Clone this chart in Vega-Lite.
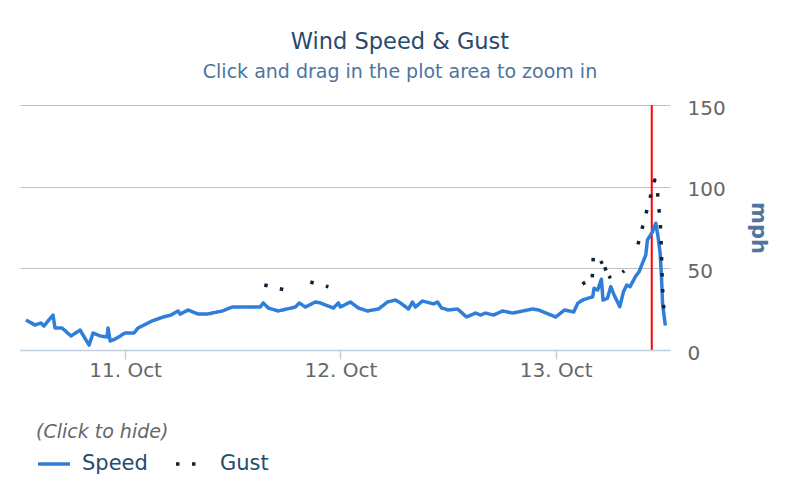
{
  "$schema": "https://vega.github.io/schema/vega-lite/v6.json",
  "width": 650,
  "height": 245,
  "autosize": {"type": "none"},
  "padding": {"left": 20, "top": 105, "right": 130, "bottom": 150},
  "background": "#ffffff",
  "title": {
    "text": "Wind Speed & Gust",
    "subtitle": "Click and drag in the plot area to zoom in",
    "font": "DejaVu Sans",
    "fontSize": 22.5,
    "fontWeight": "normal",
    "color": "#274b6d",
    "subtitleFont": "DejaVu Sans",
    "subtitleFontSize": 19,
    "subtitleColor": "#4d759e",
    "subtitlePadding": 10,
    "anchor": "middle",
    "dx": 55,
    "offset": 16
  },
  "layer": [
    {
      "data": {"values": [{"t": "2013-10-13T10:43:00Z"}]},
      "mark": {"type": "rule", "color": "#ff0000", "strokeWidth": 2},
      "encoding": {
        "x": {"field": "t", "type": "temporal"}
      }
    },
    {
      "data": {
        "values": [
          {"t": "2013-10-10T12:57:00Z", "series": "Speed", "v": 18.4},
          {"t": "2013-10-10T13:57:00Z", "series": "Speed", "v": 15.3},
          {"t": "2013-10-10T14:37:00Z", "series": "Speed", "v": 16.5},
          {"t": "2013-10-10T14:57:00Z", "series": "Speed", "v": 14.7},
          {"t": "2013-10-10T15:58:00Z", "series": "Speed", "v": 21.4},
          {"t": "2013-10-10T16:11:00Z", "series": "Speed", "v": 13.5},
          {"t": "2013-10-10T16:58:00Z", "series": "Speed", "v": 13.5},
          {"t": "2013-10-10T17:58:00Z", "series": "Speed", "v": 8.6},
          {"t": "2013-10-10T18:59:00Z", "series": "Speed", "v": 12.2},
          {"t": "2013-10-10T19:59:00Z", "series": "Speed", "v": 3},
          {"t": "2013-10-10T20:26:00Z", "series": "Speed", "v": 10.4},
          {"t": "2013-10-10T21:13:00Z", "series": "Speed", "v": 8.6},
          {"t": "2013-10-10T21:59:00Z", "series": "Speed", "v": 8},
          {"t": "2013-10-10T22:06:00Z", "series": "Speed", "v": 13.5},
          {"t": "2013-10-10T22:20:00Z", "series": "Speed", "v": 5.5},
          {"t": "2013-10-10T22:53:00Z", "series": "Speed", "v": 6.7},
          {"t": "2013-10-11T00:00:00Z", "series": "Speed", "v": 10.4},
          {"t": "2013-10-11T01:00:00Z", "series": "Speed", "v": 10.4},
          {"t": "2013-10-11T01:27:00Z", "series": "Speed", "v": 13.5},
          {"t": "2013-10-11T03:01:00Z", "series": "Speed", "v": 17.8},
          {"t": "2013-10-11T04:15:00Z", "series": "Speed", "v": 20.2},
          {"t": "2013-10-11T05:08:00Z", "series": "Speed", "v": 21.4},
          {"t": "2013-10-11T05:55:00Z", "series": "Speed", "v": 23.9},
          {"t": "2013-10-11T06:08:00Z", "series": "Speed", "v": 22},
          {"t": "2013-10-11T07:02:00Z", "series": "Speed", "v": 24.5},
          {"t": "2013-10-11T08:09:00Z", "series": "Speed", "v": 22},
          {"t": "2013-10-11T09:09:00Z", "series": "Speed", "v": 22},
          {"t": "2013-10-11T10:50:00Z", "series": "Speed", "v": 23.9},
          {"t": "2013-10-11T11:57:00Z", "series": "Speed", "v": 26.3},
          {"t": "2013-10-11T15:04:00Z", "series": "Speed", "v": 26.3},
          {"t": "2013-10-11T15:24:00Z", "series": "Speed", "v": 28.8},
          {"t": "2013-10-11T15:58:00Z", "series": "Speed", "v": 25.7},
          {"t": "2013-10-11T17:05:00Z", "series": "Speed", "v": 23.9},
          {"t": "2013-10-11T18:59:00Z", "series": "Speed", "v": 26.3},
          {"t": "2013-10-11T19:25:00Z", "series": "Speed", "v": 28.8},
          {"t": "2013-10-11T20:06:00Z", "series": "Speed", "v": 26.3},
          {"t": "2013-10-11T21:13:00Z", "series": "Speed", "v": 29.4},
          {"t": "2013-10-11T21:46:00Z", "series": "Speed", "v": 28.8},
          {"t": "2013-10-11T23:13:00Z", "series": "Speed", "v": 25.7},
          {"t": "2013-10-11T23:47:00Z", "series": "Speed", "v": 28.8},
          {"t": "2013-10-12T00:00:00Z", "series": "Speed", "v": 26.3},
          {"t": "2013-10-12T01:07:00Z", "series": "Speed", "v": 29.4},
          {"t": "2013-10-12T02:01:00Z", "series": "Speed", "v": 25.7},
          {"t": "2013-10-12T03:01:00Z", "series": "Speed", "v": 23.9},
          {"t": "2013-10-12T04:15:00Z", "series": "Speed", "v": 25.1},
          {"t": "2013-10-12T05:15:00Z", "series": "Speed", "v": 29.4},
          {"t": "2013-10-12T06:08:00Z", "series": "Speed", "v": 30.6},
          {"t": "2013-10-12T06:42:00Z", "series": "Speed", "v": 28.8},
          {"t": "2013-10-12T07:36:00Z", "series": "Speed", "v": 25.1},
          {"t": "2013-10-12T08:02:00Z", "series": "Speed", "v": 29.4},
          {"t": "2013-10-12T08:22:00Z", "series": "Speed", "v": 26.3},
          {"t": "2013-10-12T09:09:00Z", "series": "Speed", "v": 30},
          {"t": "2013-10-12T10:23:00Z", "series": "Speed", "v": 28.2},
          {"t": "2013-10-12T10:50:00Z", "series": "Speed", "v": 29.4},
          {"t": "2013-10-12T11:17:00Z", "series": "Speed", "v": 25.7},
          {"t": "2013-10-12T12:03:00Z", "series": "Speed", "v": 24.5},
          {"t": "2013-10-12T13:04:00Z", "series": "Speed", "v": 25.1},
          {"t": "2013-10-12T14:04:00Z", "series": "Speed", "v": 20.2},
          {"t": "2013-10-12T15:04:00Z", "series": "Speed", "v": 22.6},
          {"t": "2013-10-12T15:38:00Z", "series": "Speed", "v": 21.4},
          {"t": "2013-10-12T16:11:00Z", "series": "Speed", "v": 22.6},
          {"t": "2013-10-12T17:05:00Z", "series": "Speed", "v": 21.4},
          {"t": "2013-10-12T18:05:00Z", "series": "Speed", "v": 23.9},
          {"t": "2013-10-12T19:12:00Z", "series": "Speed", "v": 22.6},
          {"t": "2013-10-12T21:26:00Z", "series": "Speed", "v": 25.1},
          {"t": "2013-10-12T22:06:00Z", "series": "Speed", "v": 24.5},
          {"t": "2013-10-13T00:00:00Z", "series": "Speed", "v": 20.2},
          {"t": "2013-10-13T01:00:00Z", "series": "Speed", "v": 24.5},
          {"t": "2013-10-13T02:01:00Z", "series": "Speed", "v": 23.3},
          {"t": "2013-10-13T02:28:00Z", "series": "Speed", "v": 28.6},
          {"t": "2013-10-13T03:01:00Z", "series": "Speed", "v": 30.6},
          {"t": "2013-10-13T03:34:00Z", "series": "Speed", "v": 31.6},
          {"t": "2013-10-13T04:08:00Z", "series": "Speed", "v": 32.6},
          {"t": "2013-10-13T04:17:00Z", "series": "Speed", "v": 37.8},
          {"t": "2013-10-13T04:41:00Z", "series": "Speed", "v": 36.7},
          {"t": "2013-10-13T05:06:00Z", "series": "Speed", "v": 43.3},
          {"t": "2013-10-13T05:17:00Z", "series": "Speed", "v": 30.6},
          {"t": "2013-10-13T05:46:00Z", "series": "Speed", "v": 31.6},
          {"t": "2013-10-13T06:09:00Z", "series": "Speed", "v": 38.8},
          {"t": "2013-10-13T06:31:00Z", "series": "Speed", "v": 33.7},
          {"t": "2013-10-13T07:09:00Z", "series": "Speed", "v": 26.5},
          {"t": "2013-10-13T07:34:00Z", "series": "Speed", "v": 35.7},
          {"t": "2013-10-13T07:56:00Z", "series": "Speed", "v": 39.8},
          {"t": "2013-10-13T08:18:00Z", "series": "Speed", "v": 38.8},
          {"t": "2013-10-13T08:56:00Z", "series": "Speed", "v": 45.3},
          {"t": "2013-10-13T09:18:00Z", "series": "Speed", "v": 47.9},
          {"t": "2013-10-13T10:03:00Z", "series": "Speed", "v": 58.2},
          {"t": "2013-10-13T10:14:00Z", "series": "Speed", "v": 67.3},
          {"t": "2013-10-13T10:48:00Z", "series": "Speed", "v": 72.4},
          {"t": "2013-10-13T11:10:00Z", "series": "Speed", "v": 77.6},
          {"t": "2013-10-13T11:25:00Z", "series": "Speed", "v": 69.4},
          {"t": "2013-10-13T11:39:00Z", "series": "Speed", "v": 59.2},
          {"t": "2013-10-13T11:48:00Z", "series": "Speed", "v": 44.9},
          {"t": "2013-10-13T11:55:00Z", "series": "Speed", "v": 28.6},
          {"t": "2013-10-13T12:06:00Z", "series": "Speed", "v": 20.4},
          {"t": "2013-10-13T12:14:00Z", "series": "Speed", "v": 15},
          {"t": "2013-10-11T15:31:00Z", "series": "Gust", "v": 39.8},
          {"t": "2013-10-11T17:38:00Z", "series": "Gust", "v": 37},
          {"t": "2013-10-11T19:00:00Z", "series": "Gust", "v": null},
          {"t": "2013-10-11T20:39:00Z", "series": "Gust", "v": 41.6},
          {"t": "2013-10-11T22:40:00Z", "series": "Gust", "v": 38.7},
          {"t": "2013-10-12T12:00:00Z", "series": "Gust", "v": null},
          {"t": "2013-10-13T02:59:00Z", "series": "Gust", "v": 40.4},
          {"t": "2013-10-13T03:18:00Z", "series": "Gust", "v": 41.4},
          {"t": "2013-10-13T03:41:00Z", "series": "Gust", "v": null},
          {"t": "2013-10-13T04:05:00Z", "series": "Gust", "v": 44.5},
          {"t": "2013-10-13T04:12:00Z", "series": "Gust", "v": 57.5},
          {"t": "2013-10-13T04:31:00Z", "series": "Gust", "v": null},
          {"t": "2013-10-13T05:02:00Z", "series": "Gust", "v": 54.5},
          {"t": "2013-10-13T05:12:00Z", "series": "Gust", "v": 52.8},
          {"t": "2013-10-13T05:18:00Z", "series": "Gust", "v": null},
          {"t": "2013-10-13T05:28:00Z", "series": "Gust", "v": 50.6},
          {"t": "2013-10-13T05:38:00Z", "series": "Gust", "v": 48.6},
          {"t": "2013-10-13T05:45:00Z", "series": "Gust", "v": null},
          {"t": "2013-10-13T05:57:00Z", "series": "Gust", "v": 45.3},
          {"t": "2013-10-13T06:07:00Z", "series": "Gust", "v": 43.8},
          {"t": "2013-10-13T06:30:00Z", "series": "Gust", "v": null},
          {"t": "2013-10-13T07:27:00Z", "series": "Gust", "v": 47.6},
          {"t": "2013-10-13T07:39:00Z", "series": "Gust", "v": 48.5},
          {"t": "2013-10-13T08:30:00Z", "series": "Gust", "v": null},
          {"t": "2013-10-13T09:11:00Z", "series": "Gust", "v": 64.7},
          {"t": "2013-10-13T11:03:00Z", "series": "Gust", "v": 104.1},
          {"t": "2013-10-13T11:20:00Z", "series": "Gust", "v": 98},
          {"t": "2013-10-13T11:30:00Z", "series": "Gust", "v": 87.6},
          {"t": "2013-10-13T11:40:00Z", "series": "Gust", "v": 77.8},
          {"t": "2013-10-13T11:45:00Z", "series": "Gust", "v": 68},
          {"t": "2013-10-13T11:48:00Z", "series": "Gust", "v": 58.2},
          {"t": "2013-10-13T11:51:00Z", "series": "Gust", "v": 49},
          {"t": "2013-10-13T11:55:00Z", "series": "Gust", "v": 38.6},
          {"t": "2013-10-13T12:01:00Z", "series": "Gust", "v": 28.8},
          {"t": "2013-10-13T12:04:00Z", "series": "Gust", "v": 24.5}
        ]
      },
      "mark": {
        "type": "line",
        "strokeWidth": 3.5,
        "strokeJoin": "round",
        "clip": true,
        "invalid": "break-paths-filter-domains"
      },
      "encoding": {
        "x": {"field": "t", "type": "temporal"},
        "y": {
          "field": "v",
          "type": "quantitative",
          "scale": {"domain": [0, 150]},
          "axis": {
            "orient": "right",
            "values": [0, 50, 100, 150],
            "title": "mph",
            "titleFont": "DejaVu Sans",
            "titleFontSize": 21,
            "titleFontWeight": "bold",
            "titleColor": "#4d759e",
            "titlePadding": 22,
            "labelFont": "DejaVu Sans",
            "labelFontSize": 20,
            "labelColor": "#666666",
            "labelAlign": "left",
            "labelPadding": 17,
            "labelOffset": 3,
            "ticks": false,
            "tickSize": 0,
            "domain": false,
            "grid": true,
            "gridColor": "#c0c0c0",
            "gridWidth": 1,
            "zindex": 0
          }
        },
        "color": {
          "field": "series",
          "type": "nominal",
          "scale": {"domain": ["Speed", "Gust"], "range": ["#2f7ed8", "#0d233a"]},
          "legend": {
            "title": "(Click to hide)",
            "orient": "none",
            "legendX": 16,
            "legendY": 318,
            "direction": "horizontal",
            "padding": 0,
            "titleFont": "DejaVu Sans",
            "titleFontStyle": "italic",
            "titleFontWeight": "normal",
            "titleFontSize": 19,
            "titleColor": "#666666",
            "titlePadding": 4,
            "labelFont": "DejaVu Sans",
            "labelFontSize": 21,
            "labelColor": "#274b6d",
            "labelOffset": 10,
            "columnPadding": 21,
            "symbolType": "stroke",
            "symbolSize": 1024,
            "symbolStrokeWidth": 3.5
          }
        },
        "strokeDash": {
          "field": "series",
          "type": "nominal",
          "scale": {"domain": ["Speed", "Gust"], "range": [[1, 0], [3.5, 12.5]]},
          "legend": {
            "title": "(Click to hide)",
            "orient": "none",
            "legendX": 16,
            "legendY": 318,
            "direction": "horizontal",
            "padding": 0,
            "titleFont": "DejaVu Sans",
            "titleFontStyle": "italic",
            "titleFontWeight": "normal",
            "titleFontSize": 19,
            "titleColor": "#666666",
            "titlePadding": 4,
            "labelFont": "DejaVu Sans",
            "labelFontSize": 21,
            "labelColor": "#274b6d",
            "labelOffset": 10,
            "columnPadding": 21,
            "symbolType": "stroke",
            "symbolSize": 1024,
            "symbolStrokeWidth": 3.5
          }
        }
      }
    }
  ],
  "encoding": {
    "x": {
      "field": "t",
      "type": "temporal",
      "scale": {
        "type": "utc",
        "domain": [
          {"year": 2013, "month": 10, "date": 10, "hours": 12, "minutes": 17, "utc": true},
          {"year": 2013, "month": 10, "date": 13, "hours": 12, "minutes": 45, "utc": true}
        ]
      },
      "axis": {
        "title": null,
        "values": [
          {"year": 2013, "month": 10, "date": 11, "utc": true},
          {"year": 2013, "month": 10, "date": 12, "utc": true},
          {"year": 2013, "month": 10, "date": 13, "utc": true}
        ],
        "format": "%-d. %b",
        "labelFont": "DejaVu Sans",
        "labelFontSize": 20,
        "labelColor": "#666666",
        "labelPadding": 1,
        "labelFlush": false,
        "domainColor": "#c0d0e0",
        "domainWidth": 1.5,
        "tickColor": "#c0d0e0",
        "tickWidth": 1.5,
        "tickSize": 9,
        "grid": false,
        "zindex": 1
      }
    }
  },
  "config": {
    "view": {"stroke": null}
  }
}
